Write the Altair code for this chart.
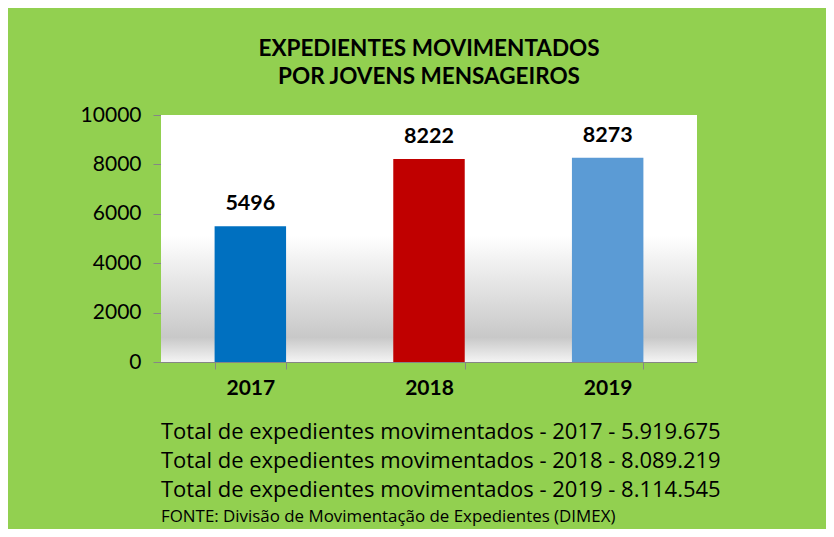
import altair as alt
import pandas as pd

anos = ["2017", "2018", "2019"]
valores = [5496, 8222, 8273]
cores = ["#0070C0", "#C00000", "#5B9BD5"]
y_ticks = [0, 2000, 4000, 6000, 8000, 10000]
titulo = ["EXPEDIENTES MOVIMENTADOS", "POR JOVENS MENSAGEIROS"]
totais = [
    "Total de expedientes movimentados - 2017 - 5.919.675",
    "Total de expedientes movimentados  - 2018 - 8.089.219",
    "Total de expedientes movimentados - 2019 - 8.114.545",
]
fonte = "FONTE:  Divisão de Movimentação de Expedientes (DIMEX)"

df = pd.DataFrame({"ano": anos, "valor": valores})

W, H = 536, 247
FONT = "Lato"
FONT2 = "Open Sans"
GRAY = "#868686"

bg = alt.Chart(alt.Data(values=[{}])).mark_rect(
    color=alt.LinearGradient(
        gradient="linear", x1=0, y1=0, x2=0, y2=1,
        stops=[
            alt.GradientStop(offset=0, color="#ffffff"),
            alt.GradientStop(offset=0.49, color="#ffffff"),
            alt.GradientStop(offset=0.9, color="#c8c8c8"),
            alt.GradientStop(offset=1, color="#f4f4f4"),
        ],
    )
).encode(x=alt.value(0), x2=alt.value(W), y=alt.value(0), y2=alt.value(H))

x_enc = alt.X(
    "ano:N", sort=anos,
    scale=alt.Scale(paddingInner=0.6, paddingOuter=0.3),
    axis=alt.Axis(
        title=None, labelAngle=0, labelFont=FONT, labelFontSize=21,
        labelFontWeight="bold", labelColor="black", tickBand="extent",
        tickSize=7, tickColor=GRAY, domainColor=GRAY, labelPadding=8,
    ),
)
y_enc = alt.Y(
    "valor:Q",
    scale=alt.Scale(domain=[0, 10000], nice=False),
    axis=alt.Axis(
        title=None, values=y_ticks, format="d", grid=False, labelFont=FONT,
        labelFontSize=21, labelColor="black", tickSize=8, tickColor=GRAY,
        domainColor=GRAY, labelPadding=12,
    ),
)

base = alt.Chart(df)
bars = base.mark_bar().encode(
    x=x_enc, y=y_enc,
    color=alt.Color("ano:N", scale=alt.Scale(domain=anos, range=cores), legend=None),
)
labels = base.mark_text(
    dy=-16, baseline="alphabetic", font=FONT, fontSize=21.5, fontWeight="bold", color="black"
).encode(x=x_enc, y=y_enc, text=alt.Text("valor:Q", format="d"))

totais_txt = alt.Chart(alt.Data(values=[{}])).mark_text(
    text=totais, align="left", baseline="alphabetic", font=FONT2, fontSize=22,
    lineHeight=29, color="black",
).encode(x=alt.value(0), y=alt.value(324))

fonte_txt = alt.Chart(alt.Data(values=[{}])).mark_text(
    text=fonte, align="left", baseline="alphabetic", font=FONT2, fontSize=16.9,
    color="black",
).encode(x=alt.value(0), y=alt.value(407))

chart = alt.layer(bg, bars, labels, totais_txt, fonte_txt).properties(
    width=W, height=H,
    title=alt.TitleParams(
        text=titulo, font=FONT, fontSize=22.5, fontWeight="bold", color="black",
        anchor="middle", offset=16, lineHeight=28,
    ),
    background="#92D050",
    autosize="none",
    padding={"left": 153, "top": 107, "right": 129, "bottom": 167},
).configure_view(stroke=None)

chart.save("out.html", embed_options={"renderer": "svg", "actions": False})
